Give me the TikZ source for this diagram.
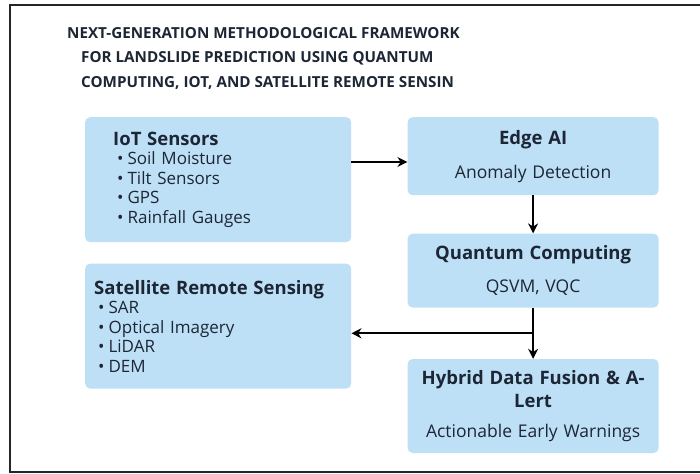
\documentclass[tikz,border=0pt]{standalone}
\usepackage{fontspec}
\setmainfont{Open Sans}
\usetikzlibrary{positioning,arrows.meta}

\definecolor{boxblue}{RGB}{190,224,247}
\definecolor{inkdark}{RGB}{28,38,52}

\tikzset{
  box/.style={fill=boxblue, rounded corners=5pt, text=inkdark, inner ysep=0pt},
  leftbox/.style={box, align=left, minimum width=266pt, minimum height=125pt,
    font=\fontsize{17}{19.5}\selectfont},
  rightbox/.style={box, align=center, minimum width=251pt, text width=239pt, inner xsep=6pt,
    font=\fontsize{17.5}{21}\selectfont},
  flow/.style={-{Stealth[length=10pt,width=10pt]}, line width=2.2pt, black}
}
\newcommand{\itm}{\hspace*{4pt}\textbullet\hspace{4pt}}
\newcommand{\hd}{\bfseries\fontsize{18.5}{21}\selectfont}

\begin{document}
\begin{tikzpicture}[x=1pt, y=-1pt]
  \useasboundingbox (0,0) rectangle (700,473);
  % frame, open on the right
  \draw[line width=1.8pt, black!85] (700,5) -- (10,5) -- (10,472) -- (700,472);

  \node[align=left, inner sep=0pt, anchor=north west, text=inkdark,
        font=\bfseries\fontsize{15.2}{24.5}\selectfont] (title) at (67,27)
    {NEXT-GENERATION METHODOLOGICAL FRAMEWORK\\
     \hspace*{14pt}FOR LANDSLIDE PREDICTION USING QUANTUM\\
     \hspace*{14pt}COMPUTING, IOT, AND SATELLITE REMOTE SENSIN};

  \node[leftbox, anchor=north west, inner xsep=28pt, text width=210pt] (iot) at (85,117)
    {{\hd IoT Sensors}\\
     \itm Soil Moisture\\
     \itm Tilt Sensors\\
     \itm GPS\\
     \itm Rainfall Gauges};
  \node[leftbox, below=21pt of iot.south west, anchor=north west, inner xsep=9pt, text width=248pt] (sat)
    {{\hd Satellite Remote Sensing}\\
     \itm SAR\\
     \itm Optical Imagery\\
     \itm LiDAR\\
     \itm DEM};

  \node[rightbox, minimum height=78pt, right=56pt of iot.north east, anchor=north west] (edge)
    {{\hd Edge AI}\\[13pt]
     Anomaly Detection};
  \node[rightbox, minimum height=74pt, below=38pt of edge] (quantum)
    {{\hd Quantum Computing}\\[12pt]
     QSVM, VQC};
  \node[rightbox, minimum height=94pt, below=51pt of quantum] (hybrid)
    {{\hd Hybrid Data Fusion \& A-}\\[2pt]
     {\hd Lert}\\[9pt]
     Actionable Early Warnings};

  % connectors
  \draw[flow] (iot.east |- 0,162) -- (edge.west |- 0,162);
  \draw[flow] (edge) -- (quantum);
  \draw[flow] (quantum) -- coordinate[midway] (split) (hybrid);
  \draw[flow] (split) -- (split -| sat.east);
\end{tikzpicture}
\end{document}
